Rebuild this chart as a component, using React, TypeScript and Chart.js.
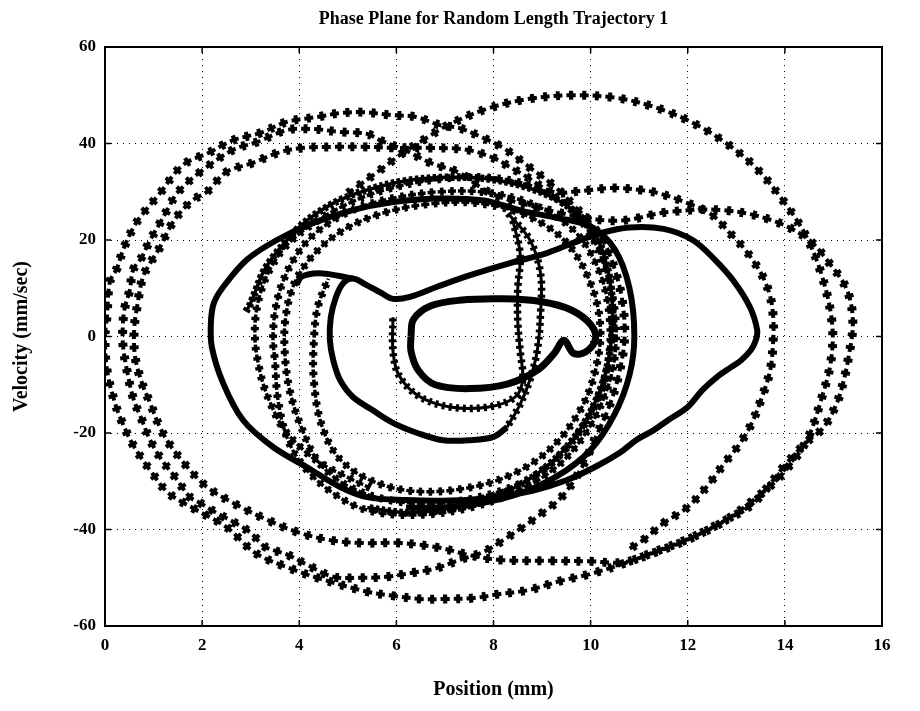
import React, { useEffect, useRef } from "react";
import { Chart, registerables } from "chart.js";

Chart.register(...registerables);

type Pt = [number, number];

const titleText = "Phase Plane for Random Length Trajectory 1";
const xTitle = "Position (mm)";
const yTitle = "Velocity (mm/sec)";
const xTicks = [0, 2, 4, 6, 8, 10, 12, 14, 16];
const yTicks = [-60, -40, -20, 0, 20, 40, 60];

// Fast outer turns of the trajectory (widely spaced samples)
const outerTurns: Pt[] = [
  [5.0, 29.7], [5.6, 34.0], [6.1, 37.8], [6.55, 40.7], [7.1, 44.0], [7.9, 47.3], [8.7, 49.2], [9.6, 50.0],
  [10.5, 49.5], [11.3, 47.6], [12.1, 44.3], [12.8, 40.0], [13.4, 35.0], [13.9, 29.0], [14.4, 21.5], [14.75, 13.0],
  [14.97, 3.0], [14.95, -5.0], [14.75, -13.0], [14.45, -21.5], [13.95, -28.5], [13.4, -33.5], [12.7, -38.6],
  [12.0, -42.0], [11.3, -44.7], [10.7, -47.0], [10.0, -49.2], [9.4, -50.6], [8.7, -52.6], [8.1, -53.4],
  [7.6, -54.2], [7.0, -54.4], [6.5, -54.4], [5.9, -53.7], [5.4, -52.9], [4.4, -50.1], [3.8, -48.0],
  [3.1, -44.9], [2.5, -39.5], [1.8, -35.5], [1.3, -32.4], [0.97, -28.3], [0.58, -22.5], [0.35, -17.7],
  [0.2, -13.6], [0.04, -6.9], [0.0, 0.0], [0.04, 4.0], [0.1, 11.3], [0.25, 14.2], [0.37, 17.9], [0.58, 22.5],
  [0.76, 25.2], [1.1, 29.3], [1.6, 35.5], [2.16, 38.2], [2.64, 40.7], [3.2, 42.2], [3.75, 44.5], [4.37, 45.5],
  [4.84, 46.3], [5.3, 46.5], [5.9, 45.9], [6.4, 45.5], [6.9, 43.8], [7.3, 43.2], [7.8, 41.1], [8.2, 39.1],
  [8.75, 35.0], [9.27, 31.0], [9.64, 27.3], [10.0, 23.5], [10.3, 19.0], [10.5, 13.8], [10.65, 7.6], [10.7, 0.0],
  [10.6, -7.0], [10.4, -14.0], [10.1, -21.0], [9.8, -27.5], [9.4, -33.3], [9.0, -36.6], [8.6, -39.5],
  [8.2, -42.2], [7.8, -44.6], [7.3, -46.3], [6.8, -48.1], [6.3, -49.0], [5.8, -49.8], [5.25, -50.0],
  [4.7, -49.8], [4.16, -47.3], [3.75, -45.2], [3.3, -43.6], [3.0, -40.7], [2.64, -38.4], [2.3, -36.6],
  [1.96, -34.5], [1.75, -33.3], [1.44, -29.1], [1.17, -25.6], [0.93, -21.5], [0.76, -17.3], [0.58, -12.7],
  [0.45, -6.9], [0.37, -1.8], [0.37, 2.8], [0.41, 6.1], [0.51, 9.6], [0.58, 13.8], [0.76, 16.5], [0.93, 20.0],
  [1.13, 23.5], [1.34, 27.3], [1.48, 29.7], [1.96, 34.1], [2.64, 38.7], [3.13, 40.3], [3.75, 42.8],
  [4.28, 43.0], [4.84, 42.4], [5.4, 42.0], [5.66, 40.7], [6.18, 38.6], [6.7, 36.0], [7.3, 33.9], [7.72, 31.0],
  [8.13, 28.9], [9.0, 26.5], [9.8, 24.8], [10.6, 24.0], [11.6, 25.8], [12.7, 26.2], [13.7, 24.2], [14.45, 20.4],
  [14.87, 15.8], [15.28, 9.6], [15.4, 2.8], [15.3, -4.9], [15.2, -9.6], [15.07, -13.8], [14.8, -18.8],
  [14.45, -21.9], [14.04, -26.2], [13.63, -31.4], [13.3, -35.0], [12.66, -38.7], [11.98, -42.2], [11.28, -44.9],
  [10.67, -46.8], [10.0, -46.6], [9.2, -46.5], [8.13, -46.3], [7.5, -45.3], [6.9, -43.8], [6.08, -42.8],
  [5.3, -42.8], [4.63, -42.2], [3.95, -40.5], [3.34, -38.0], [2.64, -34.5], [2.1, -31.2], [1.69, -27.0],
  [1.34, -22.5], [1.13, -18.8], [0.93, -13.8], [0.76, -9.6], [0.62, -4.2], [0.6, 1.3], [0.66, 6.1], [0.78, 12.3],
  [0.93, 15.2], [1.13, 18.5], [1.34, 22.7], [1.54, 25.6], [1.81, 28.3], [2.1, 30.0], [2.5, 34.1], [3.05, 36.0],
  [3.6, 38.2], [4.08, 39.1], [4.7, 39.3], [5.4, 39.3], [5.93, 39.1], [6.63, 39.1], [7.45, 38.7], [8.0, 37.0],
  [8.34, 35.1], [8.7, 33.0], [9.0, 31.0], [9.3, 29.8], [9.64, 30.0], [10.05, 30.4], [10.46, 30.8], [11.0, 30.4],
  [11.4, 29.7], [11.98, 27.7], [12.5, 25.2], [12.87, 21.4], [13.14, 18.5], [13.34, 15.8], [13.55, 12.3],
  [13.7, 8.2], [13.76, 4.0], [13.76, -0.7], [13.7, -6.9], [13.53, -12.5], [13.32, -17.9], [13.08, -22.1],
  [12.73, -26.6], [12.42, -30.8], [11.98, -35.5], [11.5, -38.7], [11.08, -42.2], [10.8, -44.0],
];

// First turn, leaving the starting point near 2.9 mm
const startTurn: Pt[] = [
  [2.9, 5.2], [2.98, 6.5], [3.13, 10.2], [3.25, 13.2], [3.46, 16.5], [3.75, 20.0], [4.0, 22.7], [4.37, 25.6],
  [4.84, 28.3], [5.4, 30.4], [6.2, 32.3], [7.1, 33.0], [8.0, 32.5], [8.9, 30.2], [9.6, 26.5], [10.1, 21.0],
  [10.35, 14.0], [10.45, 6.0], [10.4, -3.0], [10.2, -11.0], [9.8, -19.0], [9.2, -26.0], [8.4, -31.5],
  [7.4, -35.0], [6.3, -36.5], [5.4, -35.5],
];

// Middle turns with moderately spaced samples
const middleTurns: Pt[] = [
  [5.46, -31.4], [4.98, -29.1], [4.43, -26.2], [4.02, -22.9], [3.67, -19.0], [3.44, -14.6], [3.25, -9.6],
  [3.13, -4.2], [3.09, -0.7], [3.1, 4.0], [3.2, 9.0], [3.4, 14.0], [3.75, 19.0], [4.3, 23.5], [5.0, 27.5],
  [5.8, 30.5], [6.8, 32.5], [7.8, 33.0], [8.7, 31.5], [9.4, 28.0], [9.95, 22.0], [10.3, 14.0], [10.5, 5.0],
  [10.5, -4.0], [10.3, -12.0], [9.9, -20.0], [9.3, -27.0], [8.5, -32.0], [7.5, -35.5], [6.4, -37.0],
  [5.4, -36.0], [4.7, -32.5], [4.1, -27.0], [3.75, -21.0], [3.56, -13.0], [3.5, -5.0], [3.46, -0.7],
  [3.5, 5.0], [3.65, 11.0], [3.95, 17.0], [4.4, 22.0], [5.1, 26.2], [5.9, 28.6], [6.9, 30.0], [7.9, 29.8],
  [8.9, 27.0], [9.7, 21.5], [10.2, 13.0], [10.4, 3.0], [10.35, -6.0], [10.1, -14.0], [9.6, -22.0],
  [8.9, -28.5], [8.0, -32.5], [6.9, -34.5], [5.9, -34.0], [5.0, -31.0], [4.4, -26.0], [4.05, -19.0],
  [3.8, -11.0], [3.7, -3.0], [3.72, 4.0], [3.9, 11.0], [4.3, 17.0], [4.9, 22.0], [5.7, 25.5], [6.7, 27.5],
  [7.7, 27.6], [8.7, 25.0], [9.5, 19.5], [10.0, 11.0], [10.2, 2.0], [10.1, -7.0], [9.8, -15.0],
  [9.2, -23.0], [8.4, -28.5], [7.4, -31.5], [6.3, -32.0], [5.4, -29.5], [4.8, -25.0], [4.45, -18.0],
  [4.3, -9.0], [4.3, -1.0], [4.38, 6.0], [4.6, 12.0],
];

// Short hook where the slow inner curve begins
const hookTurn: Pt[] = [
  [3.95, 10.8], [4.05, 12.4], [4.4, 13.1], [4.8, 12.6], [5.1, 12.0],
];

// Turning point near 9 mm, where velocity reverses quickly
const reversalTurn: Pt[] = [
  [8.3, 25.5], [8.75, 20.0], [8.97, 13.0], [8.97, 5.0], [8.9, -3.0], [8.75, -9.0], [8.55, -14.0],
  [8.28, -18.8],
];

// Slow inner turns (samples packed into a solid band)
const heartTurn: Pt[] = [
  [8.28, -18.8], [8.0, -20.8], [7.52, -21.5], [6.96, -21.5], [6.43, -20.0], [5.93, -17.9], [5.5, -15.2],
  [5.1, -12.5], [4.84, -9.0], [4.7, -4.9], [4.63, -0.7], [4.65, 4.0], [4.75, 8.0], [4.9, 11.0], [5.1, 12.0],
  [5.4, 10.6], [5.66, 9.2], [5.93, 7.8], [6.28, 8.2], [6.84, 10.3], [7.52, 12.7], [8.34, 15.2], [9.1, 17.3],
  [9.64, 19.4], [10.2, 21.4], [10.8, 22.6], [11.5, 22.3], [12.1, 20.0], [12.55, 16.0], [12.93, 11.7],
  [13.28, 6.1], [13.43, 1.3], [13.4, -0.8], [13.3, -2.8], [13.1, -4.9], [12.9, -6.3], [12.6, -8.4],
  [12.3, -11.1], [12.0, -14.6], [11.6, -17.3], [11.3, -19.4], [10.95, -21.4], [10.6, -24.1], [10.1, -27.0],
  [9.5, -29.8], [8.8, -32.0], [8.0, -33.4], [7.1, -34.0], [6.2, -33.9], [5.4, -33.3], [4.84, -31.2],
  [4.16, -27.1], [3.46, -22.9], [2.84, -17.3], [2.43, -9.6], [2.2, -2.2], [2.18, 2.8], [2.24, 6.9],
  [2.43, 10.2], [2.92, 15.9], [3.54, 20.0], [4.28, 23.5], [5.1, 26.2], [5.9, 27.8], [6.8, 28.6], [7.8, 28.2],
  [8.6, 26.0], [9.3, 24.6], [10.0, 22.8], [10.5, 18.0], [10.8, 10.0], [10.9, 0.0], [10.8, -8.0],
  [10.5, -16.0], [10.0, -23.5], [9.3, -29.0], [8.4, -33.0], [7.3, -35.2], [6.2, -35.5],
];

const beanTurn: Pt[] = [
  [6.3, 0.0], [6.35, 3.5], [6.7, 6.3], [7.3, 7.5], [8.2, 7.8], [9.0, 7.2], [9.6, 5.5], [10.0, 2.5],
  [10.1, -0.5], [9.9, -3.2], [9.65, -3.5], [9.45, -0.8], [9.25, -3.5], [8.9, -7.0], [8.3, -9.8],
  [7.5, -10.8], [6.8, -10.0], [6.45, -7.0], [6.3, -3.0], [6.3, 0.0],
];

// Last turn, settling near 5.9 mm
const endTurn: Pt[] = [
  [8.4, 24.0], [8.55, 17.0], [8.5, 10.0], [8.5, 3.0], [8.55, -3.0], [8.6, -9.0], [8.45, -12.5], [7.9, -14.6],
  [7.1, -14.6], [6.45, -12.3], [6.05, -8.0], [5.93, -3.0], [5.93, 4.0],
];

const SERIF = "'Liberation Serif', 'Times New Roman', serif";

const frame = {
  id: "frame",
  afterDraw(chart: any) {
    const { ctx, chartArea: a, scales } = chart;
    ctx.save();
    ctx.strokeStyle = "#000";
    ctx.lineWidth = 2;
    ctx.strokeRect(a.left, a.top, a.right - a.left, a.bottom - a.top);
    ctx.lineWidth = 1.5;
    const len = 6;
    ctx.beginPath();
    xTicks.forEach((v) => {
      const p = scales.x.getPixelForValue(v);
      ctx.moveTo(p, a.bottom);
      ctx.lineTo(p, a.bottom - len);
      ctx.moveTo(p, a.top);
      ctx.lineTo(p, a.top + len);
    });
    yTicks.forEach((v) => {
      const p = scales.y.getPixelForValue(v);
      ctx.moveTo(a.left, p);
      ctx.lineTo(a.left + len, p);
      ctx.moveTo(a.right, p);
      ctx.lineTo(a.right - len, p);
    });
    ctx.stroke();
    ctx.fillStyle = "#000";
    ctx.font = `bold 18px ${SERIF}`;
    ctx.textAlign = "center";
    ctx.textBaseline = "middle";
    ctx.fillText(titleText, (a.left + a.right) / 2, 19);
    ctx.restore();
  },
};

function curve(pts: Pt[], width: number, dash: number[], offset = 0) {
  return {
    data: pts.map(([x, y]) => ({ x, y })),
    showLine: true,
    borderColor: "#000",
    backgroundColor: "#000",
    borderWidth: width,
    borderDash: dash,
    borderDashOffset: offset,
    borderCapStyle: "butt" as const,
    pointRadius: 0,
    tension: 0.35,
    fill: false,
  };
}

// A trail of "+" markers: a short wide stroke crossed by a long narrow one
function plusTrail(pts: Pt[], period: number, size: number, arm: number) {
  const gap = period - arm;
  return [
    curve(pts, size, [arm, gap]),
    curve(pts, arm, [size, period - size], (size - arm) / 2),
  ];
}

export default function App() {
  const ref = useRef<HTMLCanvasElement | null>(null);
  useEffect(() => {
    if (!ref.current) return;
    const chart = new Chart(ref.current, {
      type: "scatter",
      data: {
        datasets: [
          ...plusTrail(outerTurns, 13, 9, 4),
          ...plusTrail(middleTurns, 10, 8, 3.5),
          ...plusTrail(startTurn, 6, 7.5, 3.5),
          curve(hookTurn, 6, []),
          ...plusTrail(reversalTurn, 7, 7.5, 3),
          curve(heartTurn, 6, []),
          curve(beanTurn, 7, []),
          ...plusTrail(endTurn, 7, 7.5, 3),
        ],
      },
      options: {
        responsive: false,
        animation: false,
        layout: { padding: { top: 47, right: 38, bottom: 0, left: 0 } },
        plugins: { legend: { display: false }, tooltip: { enabled: false }, title: { display: false } },
        scales: {
          x: {
            type: "linear",
            min: 0,
            max: 16,
            afterFit: (s: any) => { s.height = 85; },
            ticks: { stepSize: 2, color: "#000", padding: 9, font: { family: SERIF, size: 17, weight: "bold" } },
            grid: { color: "#000", lineWidth: 1, drawTicks: false },
            border: { display: false, dash: [1, 5] },
            title: { display: true, text: xTitle, color: "#000", padding: { top: 0, bottom: 9 }, font: { family: SERIF, size: 20, weight: "bold" } },
          },
          y: {
            type: "linear",
            min: -60,
            max: 60,
            afterFit: (s: any) => { s.width = 105; },
            ticks: { stepSize: 20, color: "#000", padding: 9, font: { family: SERIF, size: 17, weight: "bold" } },
            grid: { color: "#000", lineWidth: 1, drawTicks: false },
            border: { display: false, dash: [1, 5] },
            title: { display: true, text: yTitle, color: "#000", padding: { top: 10, bottom: 0 }, font: { family: SERIF, size: 20, weight: "bold" } },
          },
        },
      },
      plugins: [frame],
    });
    return () => chart.destroy();
  }, []);
  return (
    <div style={{ position: "absolute", left: 0, top: 0, width: 920, height: 711, background: "#fff" }}>
      <canvas ref={ref} width={920} height={711} style={{ display: "block" }} />
    </div>
  );
}
